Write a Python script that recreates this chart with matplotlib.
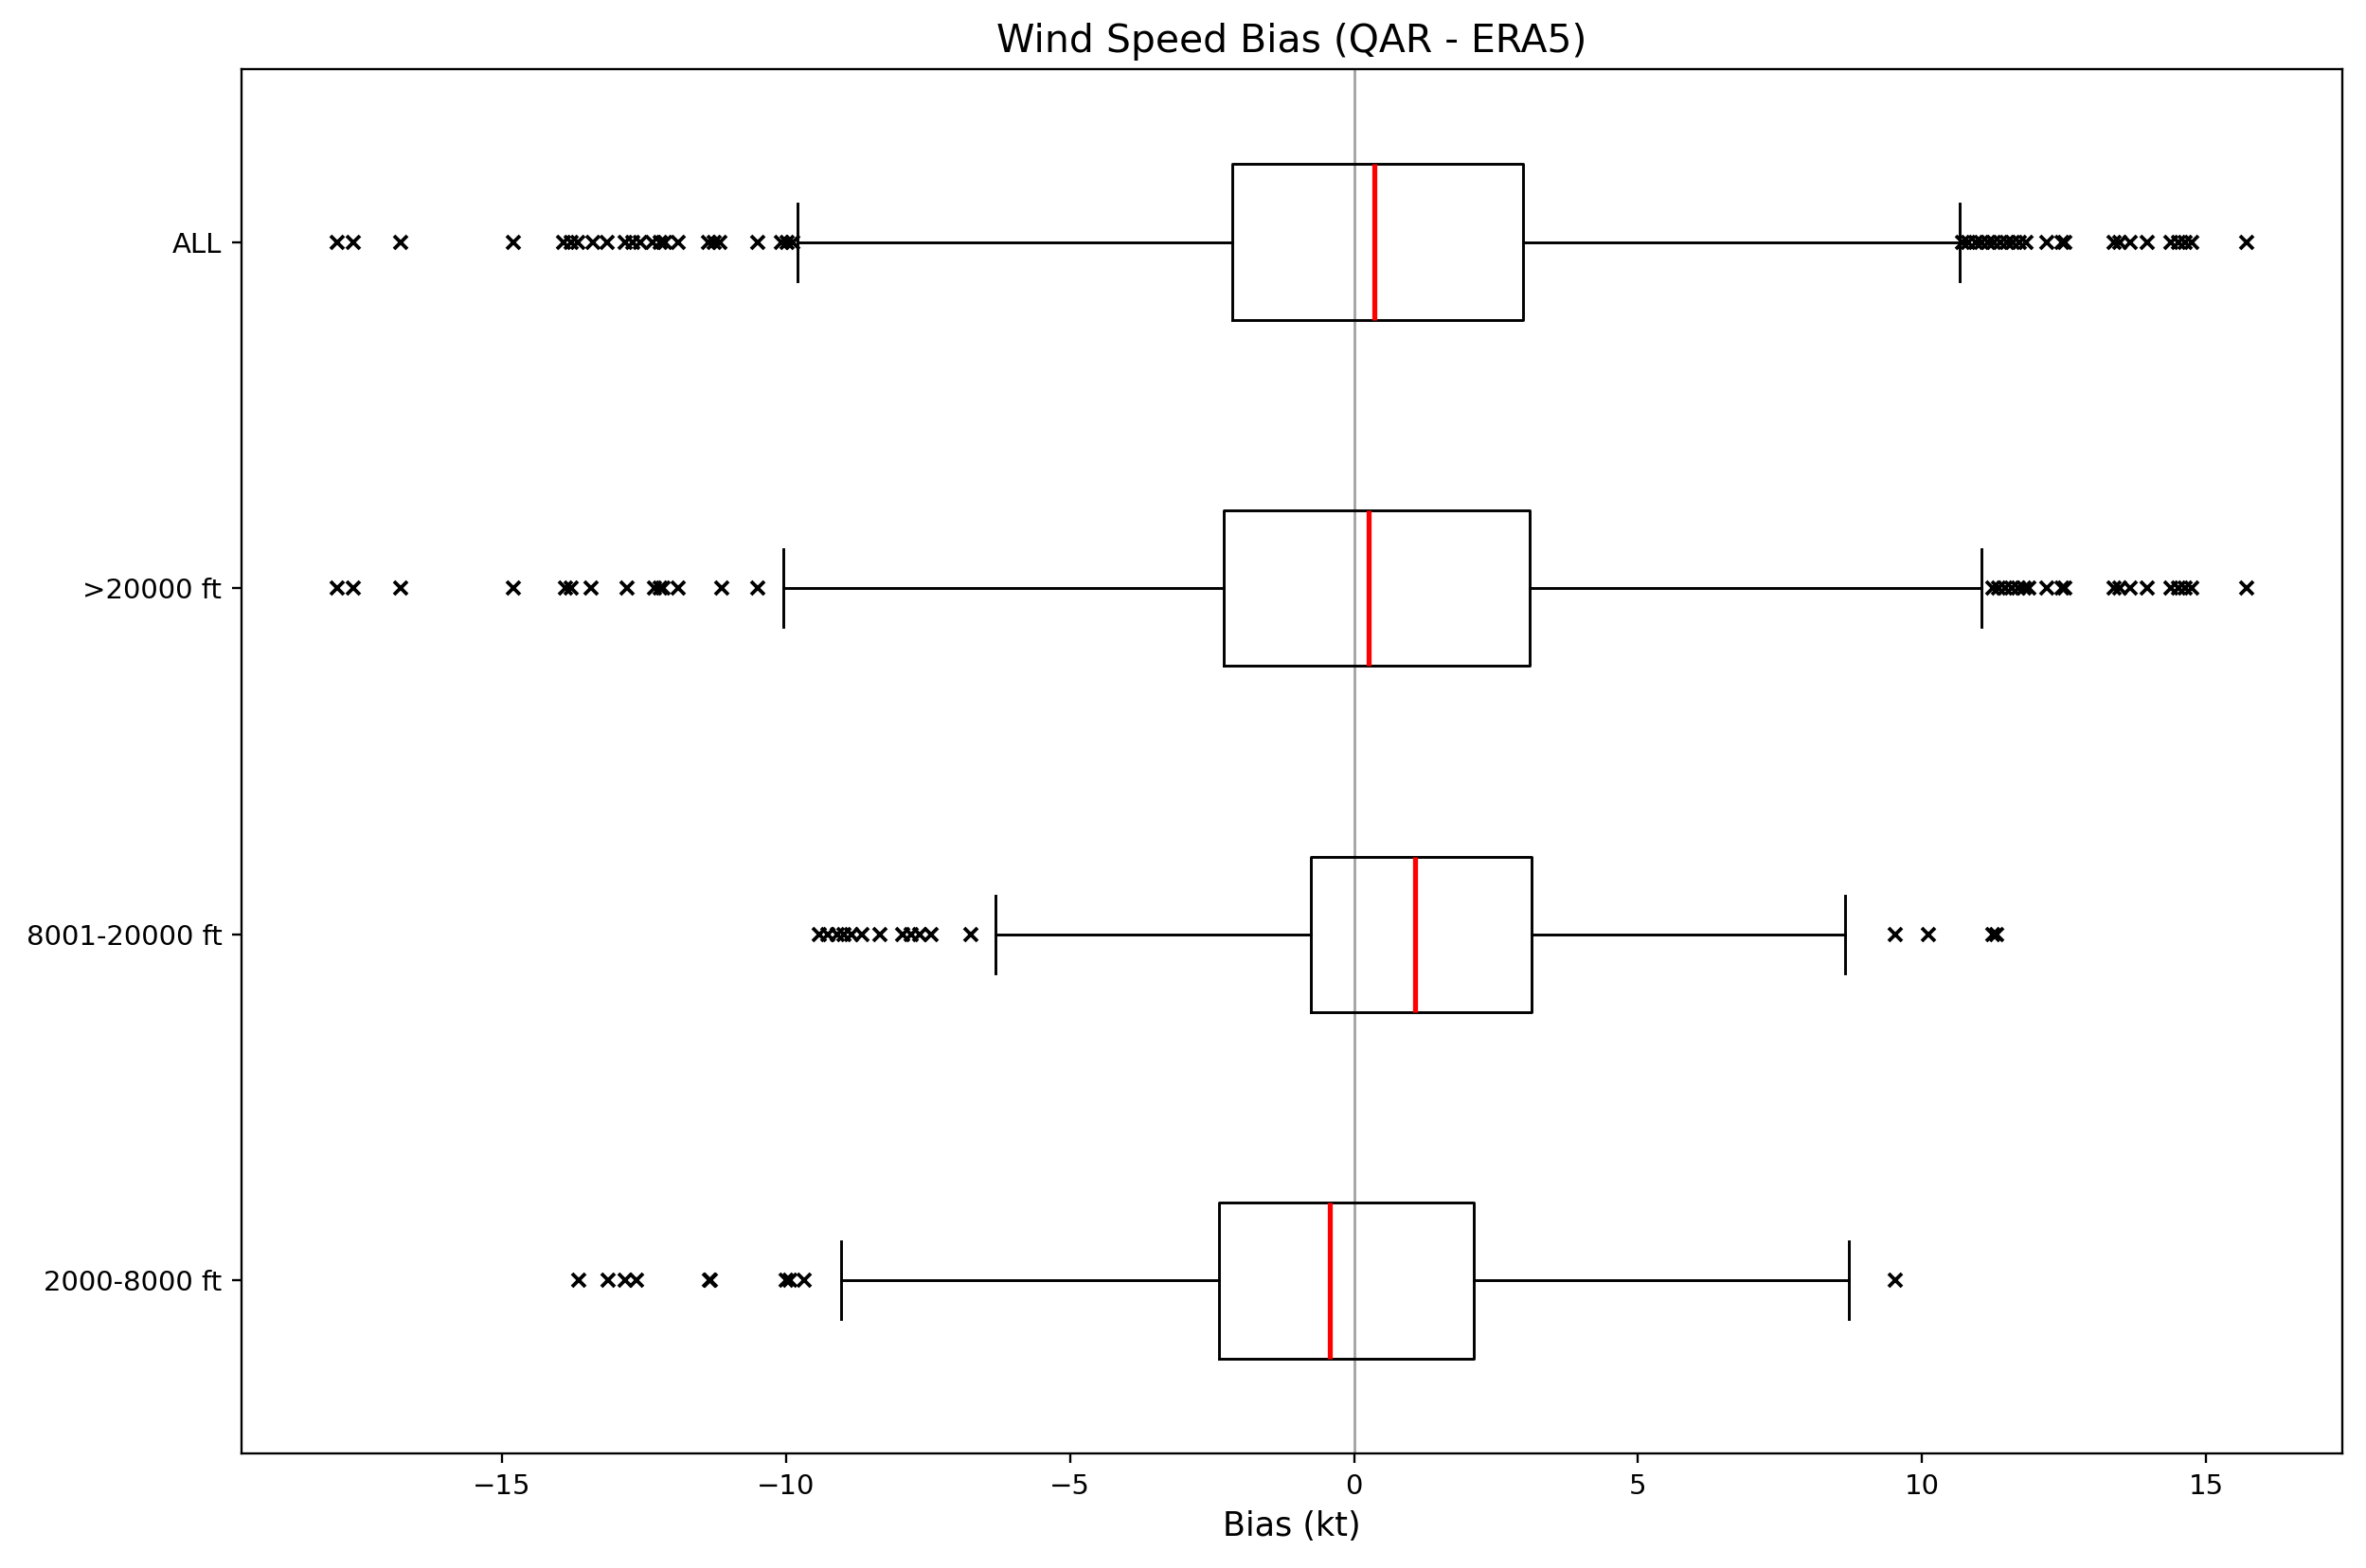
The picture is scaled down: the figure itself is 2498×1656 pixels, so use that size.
import matplotlib
matplotlib.use("Agg")
import matplotlib.pyplot as plt

# altitude bands, bottom to top
labels = ["2000-8000 ft", "8001-20000 ft", ">20000 ft", "ALL"]

q1 = [-2.38, -0.76, -2.29, -2.15]
med = [-0.42, 1.08, 0.25, 0.36]
q3 = [2.11, 3.13, 3.10, 2.98]
whislo = [-9.03, -6.31, -10.05, -9.80]
whishi = [8.71, 8.64, 11.04, 10.66]

fliers_low = [
    [-13.65, -13.14, -12.84, -12.63, -11.35, -11.33, -10.00, -9.93, -9.68],
    [-9.42, -9.26, -9.10, -8.98, -8.85, -8.66, -8.34, -7.95, -7.80, -7.64,
     -7.44, -6.74],
    [-17.91, -17.62, -16.79, -14.80, -13.88, -13.79, -13.44, -12.80, -12.32,
     -12.22, -12.16, -11.90, -11.13, -10.50],
    [-17.91, -17.62, -16.79, -14.80, -13.91, -13.79, -13.66, -13.40, -13.15,
     -12.83, -12.70, -12.57, -12.35, -12.22, -12.13, -11.90, -11.36, -11.27,
     -11.17, -10.50, -10.08, -9.99, -9.89],
]
fliers_high = [
    [9.53],
    [9.53, 10.12, 11.25, 11.32],
    [11.24, 11.35, 11.47, 11.58, 11.69, 11.80, 11.88, 12.19, 12.47, 12.52,
     13.38, 13.49, 13.66, 13.97, 14.39, 14.52, 14.64, 14.75, 15.72],
    [10.71, 10.82, 10.94, 11.05, 11.16, 11.27, 11.38, 11.49, 11.60, 11.72,
     11.83, 12.19, 12.47, 12.52, 13.38, 13.49, 13.66, 13.97, 14.39, 14.52,
     14.64, 14.75, 15.72],
]

stats = []
for i in range(len(labels)):
    stats.append({
        "label": labels[i],
        "q1": q1[i], "med": med[i], "q3": q3[i],
        "whislo": whislo[i], "whishi": whishi[i],
        "fliers": fliers_low[i] + fliers_high[i],
    })

dpi = 210
fig = plt.figure(figsize=(2498 / dpi, 1656 / dpi), dpi=dpi)
ax = fig.add_axes([0.102, 0.073, 0.888, 0.883])

ax.axvline(0, color="gray", linewidth=1, alpha=0.7, zorder=0)
ax.bxp(stats, orientation="horizontal", widths=0.45,
       medianprops=dict(color="red", linewidth=1.8),
       flierprops=dict(marker="x", markeredgecolor="black", markersize=5,
                       markeredgewidth=1.3))

ax.set_title("Wind Speed Bias (QAR - ERA5)", fontsize=14)
ax.set_xlabel("Bias (kt)", fontsize=12)

fig.savefig("out.png", dpi=dpi)
